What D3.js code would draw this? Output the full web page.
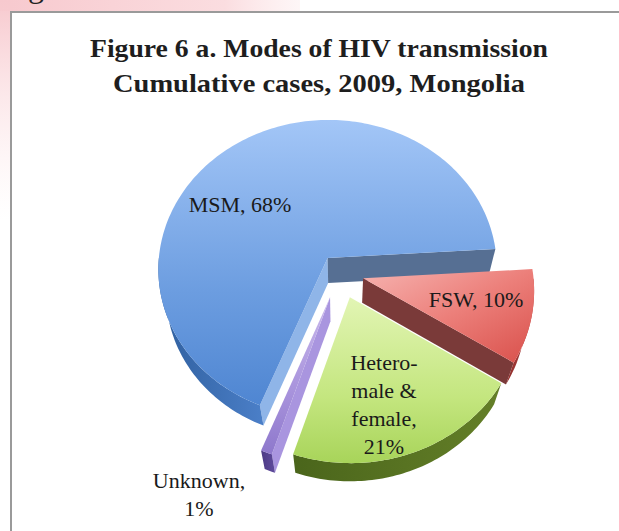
<!DOCTYPE html>
<html>
<head>
<meta charset="utf-8">
<script src="https://cdn.jsdelivr.net/npm/d3@7"></script>
<style>
  body { margin: 0; background: #fff; }
  svg { display: block; }
</style>
</head>
<body>
<div id="chart"></div>
<script>
// data
var sliceNames = ["MSM", "FSW", "Hetero-male & female", "Unknown"];
var sliceValues = [68, 10, 21, 1];
var sliceLabels = [["MSM, 68%"], ["FSW, 10%"], ["Hetero-", "male &", "female,", "21%"], ["Unknown,", "1%"]];
var titleLines = ["Figure 6 a. Modes of HIV transmission", "Cumulative cases, 2009, Mongolia"];

// how far each slice is pulled out (fraction of radius)
var explode = [0.125, 0.14, 0.17, 0.17];

var width = 619, height = 531;

var svg = d3.select("#chart").append("svg")
    .attr("width", width)
    .attr("height", height);

var defs = svg.append("defs");

function addGradient(id, x1, y1, x2, y2, stops) {
    var g = defs.append("linearGradient")
        .attr("id", id)
        .attr("x1", x1).attr("y1", y1).attr("x2", x2).attr("y2", y2);
    stops.forEach(function(s) {
        g.append("stop").attr("offset", s[0]).attr("stop-color", s[1]).attr("stop-opacity", s.length > 2 ? s[2] : 1);
    });
}

// pink page leftovers at the top left
addGradient("pinkTop", 0, 0, 1, 0, [[0, "#f7c9ce"], [0.75, "#fbdde0"], [1, "#fdf0f1", 0.6]]);
addGradient("pinkLeft", 0, 0, 0, 1, [[0, "#f7c9ce"], [1, "#fde8ea", 0]]);
svg.append("rect").attr("x", 0).attr("y", 0).attr("width", 300).attr("height", 11).style("fill", "url(#pinkTop)");
svg.append("rect").attr("x", 0).attr("y", 0).attr("width", 10).attr("height", 220).style("fill", "url(#pinkLeft)");
svg.append("text")
    .attr("x", 28).attr("y", -3)
    .style("font-family", "'Liberation Serif', serif")
    .style("font-size", "32px")
    .style("fill", "#222")
    .text("g");

// chart frame
svg.append("path")
    .attr("d", "M11,531 L11,12 L619,12")
    .style("fill", "none")
    .style("stroke", "#9a9a9a")
    .style("stroke-width", 2);

// title
svg.selectAll("text.title")
    .data(titleLines)
    .enter().append("text")
    .attr("class", "title")
    .attr("x", 319)
    .attr("y", function(d, i) { return 57 + i * 35; })
    .attr("text-anchor", "middle")
    .attr("textLength", function(d, i) { return i === 0 ? 458 : 412; })
    .attr("lengthAdjust", "spacingAndGlyphs")
    .style("font-family", "'Liberation Serif', serif")
    .style("font-weight", "bold")
    .style("font-size", "26px")
    .style("fill", "#1e1e1e")
    .text(function(d) { return d; });

// 3d pie projection (tilted disc seen in perspective)
var R = 170, H = 55, phi = 62 * Math.PI / 180, D = 1100, cx = 340, cy = 273;

function proj(x, y, z) {
    var sx = x, sy = z * Math.sin(phi) - y * Math.cos(phi);
    var dz = z * Math.cos(phi) + y * Math.sin(phi);
    var s = D / (D - dz);
    return [cx + sx * s, cy + sy * s];
}

var pie = d3.pie().sort(null).value(function(d) { return d; })
    .startAngle(-158.3 * Math.PI / 180)
    .endAngle((360 - 158.3) * Math.PI / 180);

var arcs = pie(sliceValues);

var line = d3.line();

var colors = [
    { top: ["#a3c6f7", "#6c9de0", "#4f86d2"], wall: ["#2f5f9e", "#4b7fc8"], cutA: "#8fb5e8", cutB: "#566f93" },
    { top: ["#f6b3b0", "#ec7f7a", "#d9504b"], wall: ["#8e2f2d", "#b84340"], cutA: "#7a3a39", cutB: "#7a3a39" },
    { top: ["#e2f5b4", "#c4e67f", "#a8d45a"], wall: ["#4a651b", "#647f28"], cutA: "#6c8f2c", cutB: "#6c8f2c" },
    { top: ["#c9b8ec", "#a893dc", "#8e78cc"], wall: ["#4c3a85", "#5f4b9c"], cutA: "#a995df", cutB: "#a995df" }
];

colors.forEach(function(c, i) {
    if (i === 1) addGradient("top" + i, 0, 0, 1, 1, [[0, c.top[0]], [0.5, c.top[1]], [1, c.top[2]]]);
    else addGradient("top" + i, 0, 0, 0, 1, [[0, c.top[0]], [0.6, c.top[1]], [1, c.top[2]]]);
    addGradient("wall" + i, 0, 0, 1, 0, [[0, c.wall[0]], [1, c.wall[1]]]);
});

var slices = arcs.map(function(a, i) {
    var mid = (a.startAngle + a.endAngle) / 2;
    var e = explode[i] * R;
    return {
        i: i,
        a0: a.startAngle,
        a1: a.endAngle,
        ox: e * Math.sin(mid),
        oz: -e * Math.cos(mid)
    };
});

function rim(s, t, y) {
    return proj(s.ox + R * Math.sin(t), y, s.oz - R * Math.cos(t));
}

function centre(s, y) {
    return proj(s.ox, y, s.oz);
}

function sampleAngles(a0, a1) {
    var n = Math.max(2, Math.ceil(Math.abs(a1 - a0) / 0.02));
    return d3.range(n + 1).map(function(k) { return a0 + (a1 - a0) * k / n; });
}

// back slices first
slices.sort(function(a, b) { return a.oz - b.oz; });

var pieG = svg.append("g");

slices.forEach(function(s) {
    var g = pieG.append("g").attr("class", "slice");
    var c = colors[s.i];

    // cut faces facing the viewer
    [[s.a0, Math.sin(s.a0) < 0, c.cutA], [s.a1, Math.sin(s.a1) > 0, c.cutB]].forEach(function(f) {
        if (!f[1]) return;
        var pts = [centre(s, 0), rim(s, f[0], 0), rim(s, f[0], -H), centre(s, -H)];
        g.append("path")
            .attr("d", line(pts) + "Z")
            .style("fill", f[2]);
    });

    // outer wall, front half only
    [-1, 0, 1].forEach(function(k) {
        var lo = Math.max(s.a0, Math.PI / 2 + 2 * Math.PI * k);
        var hi = Math.min(s.a1, 3 * Math.PI / 2 + 2 * Math.PI * k);
        if (hi <= lo) return;
        var ts = sampleAngles(lo, hi);
        var pts = ts.map(function(t) { return rim(s, t, 0); })
            .concat(ts.slice().reverse().map(function(t) { return rim(s, t, -H); }));
        g.append("path")
            .attr("d", line(pts) + "Z")
            .style("fill", "url(#wall" + s.i + ")");
    });

    // top face
    var topPts = [centre(s, 0)].concat(sampleAngles(s.a0, s.a1).map(function(t) { return rim(s, t, 0); }));
    g.append("path")
        .attr("d", line(topPts) + "Z")
        .style("fill", "url(#top" + s.i + ")");
});

// data labels
var labelPos = [[240, 212], [476, 307], [384, 370], [199, 488]];
var labelG = svg.append("g");
sliceLabels.forEach(function(lines, i) {
    labelG.append("text")
        .attr("x", labelPos[i][0])
        .attr("y", labelPos[i][1])
        .attr("text-anchor", "middle")
        .style("font-family", "'Liberation Serif', serif")
        .style("font-size", "22px")
        .style("fill", "#1a1a1a")
        .selectAll("tspan")
        .data(lines)
        .enter().append("tspan")
        .attr("x", labelPos[i][0])
        .attr("dy", function(d, j) { return j === 0 ? 0 : 28; })
        .text(function(d) { return d; });
});
</script>
</body>
</html>
